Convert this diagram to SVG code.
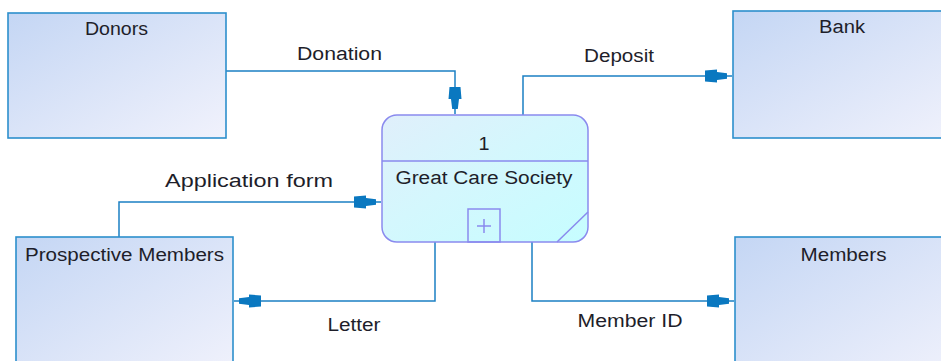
<svg xmlns="http://www.w3.org/2000/svg" width="941" height="361" viewBox="0 0 941 361">
<style>
.ext{stroke:#2c8fcc;stroke-width:1.6;fill:url(#gExt)}
.proc{stroke:#8a8aee;stroke-width:1.5}
.conn{fill:none;stroke:#1b80c4;stroke-width:1.5;marker-end:url(#arr)}
text{font-family:"Liberation Sans",Arial,sans-serif;font-size:18px;fill:#1e1e2a;text-anchor:middle}
</style>
<defs>
<linearGradient id="gExt" x1="0" y1="0" x2="1" y2="1">
<stop offset="0" stop-color="#c4d6f4"/>
<stop offset="1" stop-color="#f1f2fc"/>
</linearGradient>
<linearGradient id="gProc" x1="0" y1="0" x2="1" y2="1">
<stop offset="0" stop-color="#e0effb"/>
<stop offset="0.45" stop-color="#d4f7fd"/>
<stop offset="1" stop-color="#c6fdff"/>
</linearGradient>
<marker id="arr" markerUnits="userSpaceOnUse" viewBox="-30 -8 32 16" refX="0" refY="0" markerWidth="32" markerHeight="16" orient="auto" overflow="visible">
<path d="M-27,-5.5 L-15,-6.5 L-15,-4 L-5,-2.8 L-5,2.8 L-15,4 L-15,6.5 L-27,5.5 Z" fill="#0a78c0"/>
</marker>
</defs>
<g id="connectors">
<path class="conn" d="M226,71 H455 V114"/>
<path class="conn" d="M523,115 V76 H732"/>
<path class="conn" d="M119,237 V202 H381"/>
<path class="conn" d="M435,242 V301 H234"/>
<path class="conn" d="M532,242 V301 H734"/>
<text x="339.5" y="60" textLength="85" lengthAdjust="spacingAndGlyphs">Donation</text>
<text x="619" y="62" textLength="70" lengthAdjust="spacingAndGlyphs">Deposit</text>
<text x="249" y="187" textLength="168" lengthAdjust="spacingAndGlyphs">Application form</text>
<text x="354" y="331" textLength="53" lengthAdjust="spacingAndGlyphs">Letter</text>
<text x="630" y="327" textLength="105" lengthAdjust="spacingAndGlyphs">Member ID</text>
</g>
<g id="donors">
<rect class="ext" x="8" y="13" width="218" height="125"/>
<text x="116.5" y="35" textLength="63" lengthAdjust="spacingAndGlyphs">Donors</text>
</g>
<g id="bank">
<rect class="ext" x="733" y="11" width="230" height="127"/>
<text x="842" y="33" textLength="46" lengthAdjust="spacingAndGlyphs">Bank</text>
</g>
<g id="prospective-members">
<rect class="ext" x="16" y="237" width="217" height="140"/>
<text x="124.5" y="261" textLength="199" lengthAdjust="spacingAndGlyphs">Prospective Members</text>
</g>
<g id="members">
<rect class="ext" x="735" y="237" width="230" height="140"/>
<text x="843.5" y="261" textLength="86" lengthAdjust="spacingAndGlyphs">Members</text>
</g>
<g id="process-1">
<rect class="proc" x="382" y="115" width="206" height="127" rx="15" ry="15" fill="url(#gProc)"/>
<line class="proc" x1="382" y1="161" x2="588" y2="161"/>
<rect class="proc" x="468" y="209" width="32" height="33" fill="none"/>
<path class="proc" d="M477,226 H491 M484,219 V233" fill="none"/>
<line class="proc" x1="557" y1="242" x2="588" y2="212"/>
<text x="484" y="150" textLength="11" lengthAdjust="spacingAndGlyphs">1</text>
<text x="484" y="184" textLength="177" lengthAdjust="spacingAndGlyphs">Great Care Society</text>
</g>
</svg>
